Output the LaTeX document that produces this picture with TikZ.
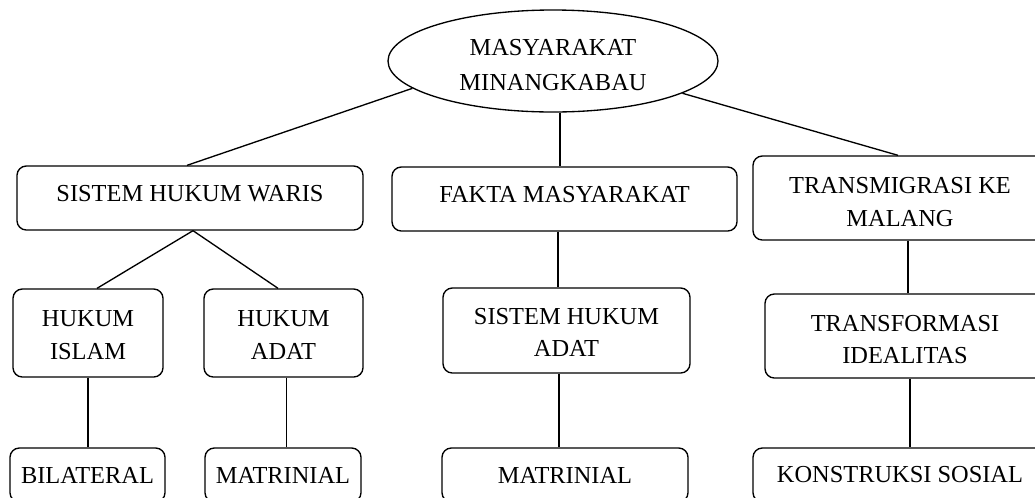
\documentclass[tikz,border=0pt]{standalone}
\usepackage{fontspec}
\setmainfont{Liberation Serif}
\usetikzlibrary{shapes.geometric,calc}
\newcommand{\bxfont}{\fontsize{18.3pt}{24.5pt}\selectfont}
\newcommand{\elfont}{\fontsize{18.3pt}{26pt}\selectfont}
\tikzset{
  px/.style 2 args={minimum width=#1*0.75pt, minimum height=#2*0.75pt},
  box/.style={draw, line width=1pt, rounded corners=7pt, align=center, inner sep=0pt, font=\bxfont},
  oval/.style={draw, line width=1pt, ellipse, inner sep=0pt},
  lab/.style={align=center, inner sep=0pt, font=\bxfont},
  conn/.style={line width=1pt},
}
\begin{document}
\begin{tikzpicture}[x=0.75pt, y=-0.75pt]
\useasboundingbox (0,0) rectangle (1035,497);
\clip (0,0) rectangle (1035,497);
\fill[white] (0,0) rectangle (1035,497);

\node[oval, px={330}{102}, label={[lab, font=\elfont, yshift=-3pt]center:{MASYARAKAT\\MINANGKABAU}}] (ell) at (553,61) {};

\node[box, px={346}{64}, text depth=7.5pt] (shw) at (190,198) {SISTEM HUKUM WARIS};
\node[box, px={345}{64}, text depth=7.5pt] (fakta) at (564.5,199) {FAKTA MASYARAKAT};
\node[box, px={294}{84}, label={[lab, yshift=-3pt]center:{TRANSMIGRASI KE\\MALANG}}] (trans) at (900,198) {};

\node[box, px={150}{88}, label={[lab, yshift=-1.5pt]center:{HUKUM\\ISLAM}}] (hi) at (88,333) {};
\node[box, px={159}{88}, label={[lab, yshift=-1.5pt]center:{HUKUM\\ADAT}}] (ha) at (283.5,333) {};
\node[box, px={247}{85}, label={[lab, yshift=-1.5pt]center:{SISTEM HUKUM\\ADAT}}] (sha) at (566.5,330.5) {};
\node[box, px={280}{84}, label={[lab, yshift=-2.6pt]center:{TRANSFORMASI\\IDEALITAS}}] (tf) at (905,336) {};

\node[box, px={155}{54}] (bil) at (87.5,475) {BILATERAL};
\node[box, px={156}{54}] (mat1) at (283,475) {MATRINIAL};
\node[box, px={246}{54}] (mat2) at (565,475) {MATRINIAL};
\node[box, px={294}{54}] (kon) at (900,475) {KONSTRUKSI SOSIAL};

% connectors
\draw[conn] (ell.191.3) -- ([xshift=-2.25pt]shw.north);
\draw[conn] ([xshift=5.25pt]ell.south) coordinate (e1) -- (e1 |- fakta.north);
\draw[conn] (ell.346.1) -- ([xshift=-1.5pt]trans.north);

\draw[conn] ([xshift=2.25pt]shw.south) -- ([xshift=6.75pt]hi.north);
\draw[conn] ([xshift=2.25pt]shw.south) -- ([xshift=-4.1pt]ha.north);
\draw[conn] ([xshift=-4.875pt]fakta.south) coordinate (f1) -- (f1 |- sha.north);
\draw[conn] ([xshift=6pt]trans.south) coordinate (t1) -- (t1 |- tf.north);

\draw[conn] (hi.south) coordinate (h1) -- (h1 |- bil.north);
\draw[conn] ([xshift=2.25pt]ha.south) coordinate (h2) -- (h2 |- mat1.north);
\draw[conn] ([xshift=-5.625pt]sha.south) coordinate (s1) -- (s1 |- mat2.north);
\draw[conn] ([xshift=3.75pt]tf.south) coordinate (t2) -- (t2 |- kon.north);
\end{tikzpicture}
\end{document}
